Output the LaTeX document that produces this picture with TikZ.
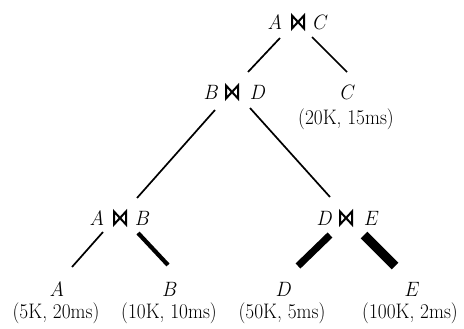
\documentclass[tikz,border=0pt]{standalone}
\usepackage{graphicx}
\newcommand{\tx}[1]{\scalebox{0.92}[1]{#1}}
\begin{document}
\begin{tikzpicture}[x=1pt,y=-1pt,
  every node/.style={font=\fontsize{21}{23}\selectfont, inner sep=0pt},
  bowtie/.pic={\draw[line width=2pt, line join=miter] (-6,-6.5)--(-6,6.5)--(6,-6.5)--(6,6.5)--cycle;},
  edge/.style={line width=1.7pt, line cap=butt},
  edgeB/.style={line width=4.2pt, line cap=butt},
  edgeD/.style={line width=7pt, line cap=butt},
  edgeE/.style={line width=9.5pt, line cap=butt}]
\useasboundingbox (0,0) rectangle (464,329);
\node (AC) at (298,22) {\tx{$A$\hspace{34pt}$C$}};
\node (BD) at (235,92) {\tx{$B$\hspace{34pt}$D$}};
\node (C) at (348,92) {\tx{$C$}};
\node (Cc) at (346,119) {\tx{(20K, 15ms)}};
\node (AB) at (120,218) {\tx{$A$\hspace{34pt}$B$}};
\node (DE) at (348,218) {\tx{$D$\hspace{34pt}$E$}};
\node (A) at (57,289) {\tx{$A$}};
\node (Ac) at (56,313) {\tx{(5K, 20ms)}};
\node (B) at (170,289) {\tx{$B$}};
\node (Bc) at (169,313) {\tx{(10K, 10ms)}};
\node (D) at (284,289) {\tx{$D$}};
\node (Dc) at (282,313) {\tx{(50K, 5ms)}};
\node (E) at (412,289) {\tx{$E$}};
\node (Ec) at (410,313) {\tx{(100K, 2ms)}};
\pic at (AC.center) {bowtie};
\pic at ([xshift=-3pt]BD.center) {bowtie};
\pic at (AB.center) {bowtie};
\pic at ([xshift=-2pt]DE.center) {bowtie};

\draw[edge] ([shift={(-18,16)}]AC.center) -- ([shift={(13,-20)}]BD.center);
\draw[edge] ([shift={(14,15)}]AC.center) -- ([shift={(-1,-20)}]C.center);
\draw[edge] ([shift={(-20,18)}]BD.center) -- ([shift={(17,-20)}]AB.center);
\draw[edge] ([shift={(15,16)}]BD.center) -- ([shift={(-18,-21)}]DE.center);
\draw[edge] ([shift={(-17,14)}]AB.center) -- ([shift={(15,-22)}]A.center);
\draw[edgeB] ([shift={(18,15)}]AB.center) -- ([shift={(-2,-24)}]B.center);
\draw[edgeD] ([shift={(-18,17)}]DE.center) -- ([shift={(14,-23)}]D.center);
\draw[edgeE] ([shift={(16,17)}]DE.center) -- ([shift={(-17,-23)}]E.center);
\end{tikzpicture}
\end{document}
